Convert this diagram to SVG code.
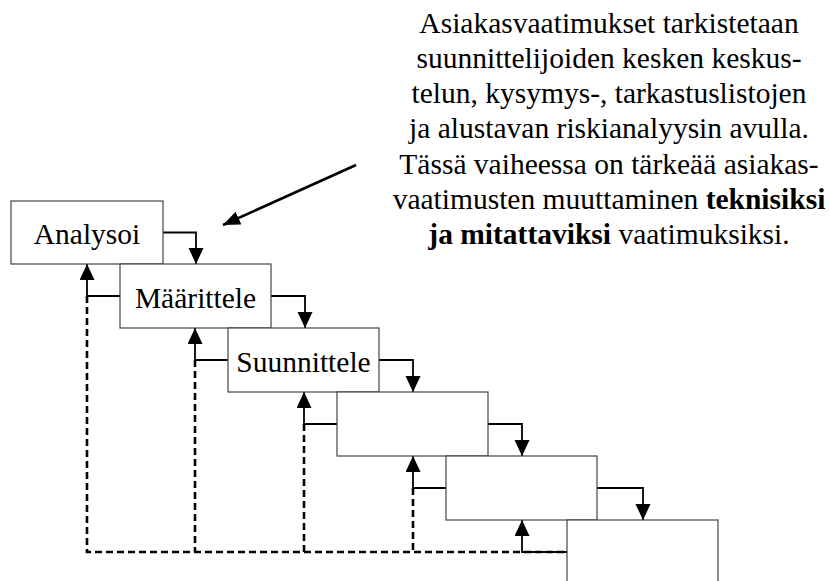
<svg xmlns="http://www.w3.org/2000/svg" width="830" height="581" viewBox="0 0 830 581">
<style>
.box{fill:#fff;stroke:#444;stroke-width:1.2}
.c{fill:none;stroke:#000;stroke-width:1.8}
.d{fill:none;stroke:#000;stroke-width:2.6;stroke-dasharray:7 4}
.big{fill:none;stroke:#000;stroke-width:2.6}
</style>
<defs>
<marker id="ah" markerUnits="userSpaceOnUse" markerWidth="16" markerHeight="16" viewBox="0 0 16 16" refX="16" refY="7.5" orient="auto">
<path d="M0,0 L16,7.5 L0,15 Z" fill="#000"/>
</marker>
<marker id="ah2" markerUnits="userSpaceOnUse" markerWidth="18" markerHeight="16" viewBox="0 0 18 16" refX="17" refY="8" orient="auto">
<path d="M0,1 L17,8 L0,15 Z" fill="#000"/>
</marker>
</defs>
<rect width="830" height="581" fill="#fff"/>
<g id="connectors">
<path class="d" d="M87,296 V552 H567 M195,360 V552 M304,424 V552 M413,488 V552"/>
<path class="c" d="M163,232.5 H196 V264" marker-end="url(#ah)"/>
<path class="c" d="M271,296 H305 V328" marker-end="url(#ah)"/>
<path class="c" d="M379,360 H413 V392" marker-end="url(#ah)"/>
<path class="c" d="M488,424 H522 V456" marker-end="url(#ah)"/>
<path class="c" d="M597,488 H643 V520" marker-end="url(#ah)"/>
<path class="c" d="M120,296 H87 V264" marker-end="url(#ah)"/>
<path class="c" d="M228,360 H195 V328" marker-end="url(#ah)"/>
<path class="c" d="M337,424 H304 V392" marker-end="url(#ah)"/>
<path class="c" d="M446,488 H413 V456" marker-end="url(#ah)"/>
<path class="c" d="M567,552 H522 V520" marker-end="url(#ah)"/>
<path class="big" d="M356,165 L223,225" marker-end="url(#ah2)"/>
</g>
<g font-family="Liberation Serif, Times New Roman, DejaVu Serif, serif" font-size="29.5" text-anchor="middle" fill="#000">
<g id="analysoi">
<rect class="box" x="11" y="201" width="152" height="63"/>
<text x="87" y="244">Analysoi</text>
</g>
<g id="maarittele">
<rect class="box" x="120" y="264" width="151" height="64"/>
<text x="195.5" y="308">Määrittele</text>
</g>
<g id="suunnittele">
<rect class="box" x="228" y="328" width="151" height="64"/>
<text x="303.5" y="372">Suunnittele</text>
</g>
<g id="step4">
<rect class="box" x="337" y="392" width="151" height="64"/>
</g>
<g id="step5">
<rect class="box" x="446" y="456" width="151" height="64"/>
</g>
<g id="step6">
<rect class="box" x="567" y="520" width="151" height="64"/>
</g>
<g id="note">
<text x="609" y="33">Asiakasvaatimukset tarkistetaan</text>
<text x="609" y="68">suunnittelijoiden kesken keskus-</text>
<text x="609" y="103">telun, kysymys-, tarkastuslistojen</text>
<text x="609" y="138">ja alustavan riskianalyysin avulla.</text>
<text x="609" y="174">Tässä vaiheessa on tärkeää asiakas-</text>
<text x="609" y="209">vaatimusten muuttaminen <tspan font-weight="bold">teknisiksi</tspan></text>
<text x="609" y="244"><tspan font-weight="bold">ja mitattaviksi</tspan> vaatimuksiksi.</text>
</g>
</g>
</svg>
